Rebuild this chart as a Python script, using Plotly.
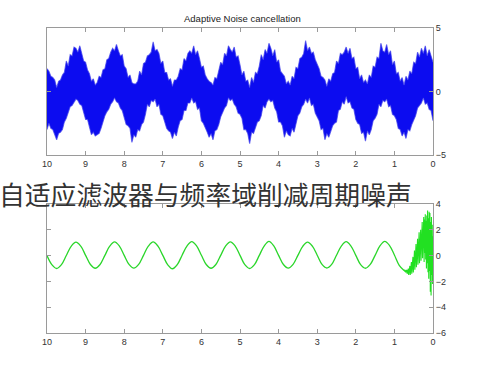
import numpy as np
import plotly.graph_objects as go

# ---------------- data ----------------
title_top = "Adaptive Noise cancellation"
overlay_text = "自适应滤波器与频率域削减周期噪声"

x_ticks = [0, 1, 2, 3, 4, 5, 6, 7, 8, 9, 10]
y_ticks_top = [-5, 0, 5]
y_ticks_bot = [-6, -4, -2, 0, 2, 4]

# blue noisy signal: upper / lower envelope, sampled every 0.05 from 0 to 10
blue_upper = [
    2.3, 2.9, 3.3, 2.8, 3.6, 3.0, 3.4, 2.7, 3.1, 2.2, 2.3, 1.4, 1.6, 0.9, 1.2, 0.5, 1.1, 0.8, 1.5, 1.4,
    2.4, 2.1, 3.2, 2.9, 3.7, 3.1, 3.2, 3.8, 2.6, 2.7, 1.9, 2.0, 1.1, 1.3, 0.6, 0.9, 0.7, 1.3, 1.0, 1.9,
    1.8, 2.7, 2.6, 3.4, 3.0, 3.5, 3.1, 2.9, 3.0, 2.2, 2.4, 1.5, 1.4, 0.8, 1.0, 0.4, 0.9, 1.1, 1.2, 1.8,
    2.2, 2.5, 3.1, 3.0, 3.5, 3.2, 4.0, 3.0, 2.7, 2.6, 1.8, 1.9, 1.0, 1.2, 0.5, 0.8, 0.6, 1.2, 1.4, 1.6,
    2.5, 2.3, 3.3, 2.8, 3.4, 3.8, 3.0, 3.3, 2.5, 2.9, 2.0, 1.4, 1.5, 0.7, 1.1, 0.3, 0.9, 0.8, 1.6, 1.3,
    2.1, 2.8, 2.7, 3.5, 3.1, 3.3, 3.6, 2.8, 3.0, 2.1, 2.3, 1.6, 1.0, 1.1, 0.5, 0.7, 0.8, 1.0, 1.3, 2.0,
    1.9, 2.6, 3.2, 2.9, 3.6, 3.0, 3.2, 3.0, 2.4, 2.6, 1.7, 1.8, 1.2, 0.9, 0.9, 0.4, 1.0, 0.9, 1.5, 1.5,
    2.4, 2.2, 3.0, 3.3, 3.2, 3.9, 3.1, 2.9, 2.8, 2.3, 2.2, 1.3, 1.6, 0.8, 0.6, 0.6, 0.7, 1.3, 1.1, 1.8,
    2.0, 2.9, 2.8, 3.2, 3.7, 3.2, 3.4, 3.1, 2.6, 2.5, 1.8, 1.7, 1.1, 1.2, 0.7, 0.5, 1.0, 0.8, 1.4, 1.7,
    2.3, 2.4, 3.1, 3.6, 3.1, 3.4, 3.5, 2.8, 2.9, 2.0, 2.4, 1.5, 1.3, 0.9, 0.8, 0.3, 0.9, 1.1, 1.2, 1.6,
    1.8,
]
blue_lower = [
    -2.3, -1.5, -1.4, -0.9, -1.0, -0.5, -0.9, -1.1, -1.3, -1.9, -2.2, -2.6, -3.1, -3.0, -3.7, -3.2, -3.5, -3.0, -2.9, -2.2,
    -1.9, -1.8, -1.1, -1.2, -0.6, -0.8, -0.7, -1.2, -1.0, -1.8, -2.1, -2.3, -3.0, -3.4, -3.1, -3.9, -3.2, -3.3, -2.6, -2.5,
    -2.2, -1.4, -1.3, -0.8, -0.9, -0.4, -1.0, -0.8, -1.4, -1.5, -2.4, -2.5, -2.7, -3.2, -3.6, -3.3, -3.8, -2.9, -3.0, -2.3,
    -2.0, -1.7, -1.0, -1.1, -0.5, -0.9, -0.6, -1.0, -1.2, -1.7, -1.9, -2.7, -3.2, -2.9, -3.5, -3.4, -3.1, -3.6, -2.7, -2.4,
    -2.4, -1.6, -1.3, -0.7, -0.8, -0.6, -0.8, -1.3, -1.1, -1.9, -2.3, -2.4, -2.9, -3.3, -3.2, -4.1, -3.3, -3.0, -3.0, -2.1,
    -1.8, -1.7, -1.2, -1.0, -0.6, -0.7, -0.5, -1.1, -1.3, -1.6, -2.0, -2.6, -3.0, -3.1, -3.8, -3.3, -3.6, -3.2, -2.8, -2.5,
    -2.3, -1.3, -1.4, -0.8, -0.9, -0.5, -0.9, -0.9, -1.5, -1.5, -2.2, -2.3, -2.8, -3.5, -3.2, -3.7, -3.2, -3.1, -2.9, -2.3,
    -1.9, -1.8, -1.0, -1.2, -0.6, -0.8, -0.7, -1.2, -1.0, -1.8, -2.4, -2.6, -3.1, -3.0, -3.6, -3.4, -4.0, -2.9, -2.7, -2.6,
    -2.1, -1.5, -1.3, -0.9, -0.8, -0.5, -0.8, -1.0, -1.4, -1.6, -1.9, -2.5, -2.9, -3.3, -3.4, -3.5, -3.2, -3.4, -2.8, -2.2,
    -2.2, -1.6, -1.1, -1.0, -0.7, -0.6, -0.9, -1.1, -1.2, -1.7, -2.1, -2.4, -3.0, -3.2, -3.3, -3.8, -3.4, -3.0, -2.9, -2.5,
    -3.0,
]

# green output: noisy start (every 0.01 from 0 to 0.75)
green_noisy = [
    1.5, -2.2, 2.4, -1.5, 3.0, -3.1, 2.6, -2.8, 3.3, -1.2,
    3.4, -1.8, 2.9, -1.3, 3.5, -0.6, 3.1, -1.0, 2.7, -0.3,
    3.2, 0.2, 2.8, -0.5, 3.0, 0.4, 2.5, -0.2, 2.6, 0.1,
    2.2, -0.4, 2.0, -0.1, 1.7, -0.6, 1.8, -0.3, 1.4, -0.7,
    1.3, -0.5, 1.0, -0.9, 0.9, -0.8, 0.6, -1.1, 0.4, -0.9,
    0.2, -1.3, -0.1, -1.2, -0.3, -1.4, -0.5, -1.3, -0.7, -1.5,
    -0.8, -1.4, -1.0, -1.5, -1.0, -1.4, -1.1, -1.4, -1.1, -1.3,
    -1.1, -1.3, -1.15, -1.25, -1.1, -1.15,
]
# green output: converged part (every 0.125 from 0.75 to 10)
green_smooth = [
    -1.15, -0.75,
    0.05, 0.78, 1.10, 0.75, 0.02, -0.68, -0.98, -0.70,
    0.02, 0.74, 1.08, 0.74, 0.03, -0.68, -0.96, -0.68,
    0.03, 0.73, 1.04, 0.72, 0.02, -0.68, -0.97, -0.69,
    0.02, 0.75, 1.10, 0.74, 0.02, -0.70, -1.00, -0.70,
    0.02, 0.74, 1.07, 0.73, 0.02, -0.69, -0.98, -0.69,
    0.03, 0.75, 1.09, 0.74, 0.03, -0.70, -1.02, -0.70,
    0.02, 0.73, 1.06, 0.73, 0.02, -0.68, -0.97, -0.68,
    0.02, 0.74, 1.06, 0.73, 0.02, -0.69, -0.98, -0.69,
    0.02, 0.73, 1.04, 0.72, 0.01, -0.70, -1.00, -0.70,
    0.00,
]

# sample positions (time axis)
t_blue = np.round(np.arange(len(blue_upper)) * 0.05, 3)
t_gnoisy = np.round(np.arange(len(green_noisy)) * 0.01, 3)
t_gsmooth = np.round(0.75 + np.arange(len(green_smooth)) * 0.125, 4)

# ---------------- figure ----------------
fig = go.Figure()

fig.add_trace(go.Scatter(x=t_blue, y=blue_upper, mode="lines",
                         line=dict(color="rgba(60,60,235,0.7)", width=1.1),
                         xaxis="x", yaxis="y", hoverinfo="skip"))
fig.add_trace(go.Scatter(x=t_blue, y=blue_lower, mode="lines",
                         line=dict(color="rgba(60,60,235,0.7)", width=1.1),
                         fill="tonexty", fillcolor="rgb(12,12,240)",
                         xaxis="x", yaxis="y", hoverinfo="skip"))

fig.add_trace(go.Scatter(x=t_gsmooth, y=green_smooth, mode="lines",
                         line=dict(color="#2ad62a", width=1.3, shape="spline"),
                         xaxis="x2", yaxis="y2", hoverinfo="skip"))
fig.add_trace(go.Scatter(x=t_gnoisy, y=green_noisy, mode="lines",
                         line=dict(color="#22e022", width=1.1),
                         xaxis="x2", yaxis="y2", hoverinfo="skip"))

W, H = 500, 375
xl, xr = 47 / W, 433 / W
top_dom = [1 - 155 / H, 1 - 28 / H]
bot_dom = [1 - 333 / H, 1 - 204 / H]

tickfont = dict(family="Liberation Sans, Arial, sans-serif", size=9, color="#333")
axis_common = dict(showline=True, linecolor="#9a9a9a", linewidth=1, mirror="ticks",
                   ticks="inside", ticklen=4, tickcolor="#9a9a9a", showgrid=False,
                   zeroline=False, tickfont=tickfont, fixedrange=True, automargin=False)

fig.update_layout(
    width=W, height=H, margin=dict(l=0, r=0, t=0, b=0, pad=0),
    paper_bgcolor="white", plot_bgcolor="white", showlegend=False,
    xaxis=dict(domain=[xl, xr], range=[10, 0], tickvals=x_ticks, anchor="y", **axis_common),
    yaxis=dict(domain=top_dom, range=[-5, 5], tickvals=y_ticks_top, side="right",
               anchor="x", **axis_common),
    xaxis2=dict(domain=[xl, xr], range=[10, 0], tickvals=x_ticks, anchor="y2", **axis_common),
    yaxis2=dict(domain=bot_dom, range=[-6, 4], tickvals=y_ticks_bot, side="right",
                anchor="x2", **axis_common),
    annotations=[
        dict(text=title_top, xref="paper", yref="paper", x=242 / W, y=1 - 19 / H,
             xanchor="center", yanchor="middle", showarrow=False,
             font=dict(family="Liberation Sans, Arial, sans-serif", size=9.5, color="#222")),
        dict(text=overlay_text, xref="paper", yref="paper", x=-0.006, y=1 - 193 / H,
             xanchor="left", yanchor="middle", showarrow=False,
             font=dict(family="Noto Sans CJK SC", size=25.8, color="#333")),
    ],
)

fig.write_html(
    "out.html",
    config={"displayModeBar": False},
    post_script="document.body.style.margin='0';document.body.style.overflow='hidden';",
)
